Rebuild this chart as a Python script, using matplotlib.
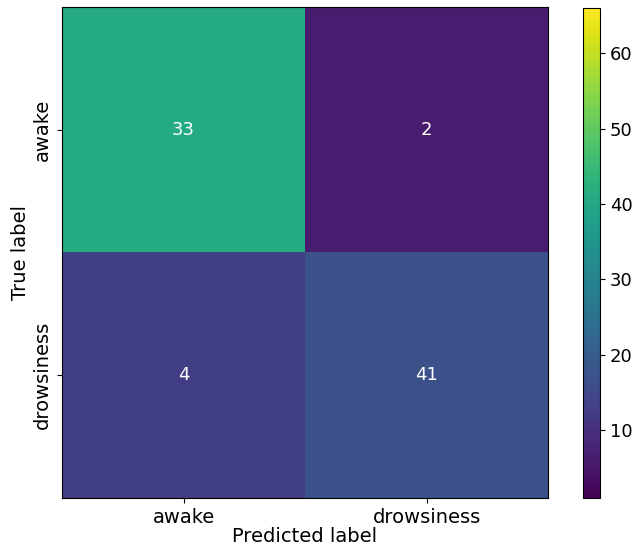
import matplotlib
matplotlib.use("Agg")
import matplotlib.pyplot as plt
import numpy as np

labels = ["awake", "drowsiness"]
counts = [[33, 2],
          [4, 41]]
# shade values as they appear in the picture's colours
shade = [[41, 6],
         [13, 17]]
vmin, vmax = 1, 66
cbar_ticks = [10, 20, 30, 40, 50, 60]

plt.rcParams['font.family'] = ['DejaVu Sans']
fs = 14
fig = plt.figure(figsize=(6.43, 5.56), dpi=100)
W, H = 643, 556
ax = fig.add_axes([62 / W, 1 - 498 / H, 486 / W, 491 / H])
cax = fig.add_axes([583 / W, 1 - 498 / H, 17 / W, 490 / H])

im = ax.imshow(np.array(shade), cmap="viridis", vmin=vmin, vmax=vmax, aspect="auto")
for i in range(2):
    for j in range(2):
        ax.text(j, i, str(counts[i][j]), ha="center", va="center",
                color="white", fontsize=fs - 1)
ax.set_xticks(range(2))
ax.set_xticklabels(labels, fontsize=fs)
ax.set_yticks(range(2))
ax.set_yticklabels(labels, fontsize=fs, rotation=90, va="center")
ax.set_xlabel("Predicted label", fontsize=fs, labelpad=0)
ax.set_ylabel("True label", fontsize=fs, labelpad=2)

cb = fig.colorbar(im, cax=cax)
cb.set_ticks(cbar_ticks)
cb.ax.tick_params(labelsize=fs - 1)

fig.savefig("out.png", dpi=100)
